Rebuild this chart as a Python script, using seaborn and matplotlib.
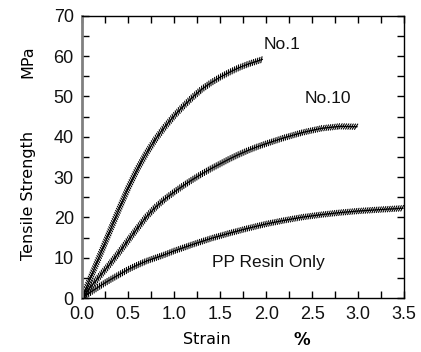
import numpy as np
import pandas as pd
import matplotlib
matplotlib.use("Agg")
import matplotlib.pyplot as plt
import matplotlib.patheffects as pe
from matplotlib.ticker import MultipleLocator
import seaborn as sns

# values
no1_strain = [0.0, 0.1, 0.2, 0.3, 0.4, 0.5, 0.6, 0.7, 0.8, 0.9, 1.0, 1.1,
              1.2, 1.3, 1.4, 1.5, 1.6, 1.7, 1.8, 1.96]
no1_stress = [0.0, 5.5, 11.0, 16.5, 22.0, 27.3, 32.0, 36.0, 39.5, 42.5, 45.2, 47.6,
              49.8, 51.8, 53.4, 54.8, 56.0, 57.1, 58.0, 59.2]

no10_strain = [0.0, 0.1, 0.2, 0.3, 0.4, 0.5, 0.6, 0.7, 0.8, 0.9, 1.0, 1.1, 1.2,
               1.3, 1.4, 1.5, 1.6, 1.7, 1.8, 1.9, 2.0, 2.2, 2.4, 2.6, 2.8, 2.99]
no10_stress = [0.0, 3.0, 5.7, 8.4, 11.3, 14.3, 17.3, 20.2, 22.6, 24.6, 26.3, 27.9, 29.4,
               30.8, 32.1, 33.3, 34.5, 35.6, 36.6, 37.5, 38.3, 39.8, 41.1, 42.1, 42.6, 42.5]

pp_strain = [0.0, 0.1, 0.2, 0.3, 0.4, 0.5, 0.6, 0.7, 0.8, 0.9, 1.0, 1.2, 1.4, 1.6,
             1.8, 2.0, 2.2, 2.4, 2.6, 2.8, 3.0, 3.2, 3.49]
pp_stress = [0.0, 1.6, 3.1, 4.5, 5.8, 7.1, 8.2, 9.2, 10.0, 10.8, 11.7, 13.3, 14.8, 16.1,
             17.3, 18.4, 19.3, 20.1, 20.7, 21.2, 21.6, 21.9, 22.3]

labels = ["No.1", "No.10", "PP Resin Only"]
label_pos = [(1.97, 62.8), (2.42, 49.6), (1.41, 8.9)]

sns.set_style("ticks")
plt.rcParams['font.family'] = ['Liberation Sans', 'DejaVu Sans']
plt.rcParams['text.color'] = 'black'
plt.rcParams['xtick.color'] = 'black'
plt.rcParams['ytick.color'] = 'black'

fig = plt.figure(figsize=(4.21, 3.52), dpi=100)
ax = fig.add_axes([0.195, 0.153, 0.765, 0.802])

# zigzag look of the original curves
zig = [pe.TickedStroke(spacing=1.6, angle=60, length=1.4, linewidth=0.8),
       pe.TickedStroke(spacing=1.6, angle=-120, length=1.4, linewidth=0.8),
       pe.Normal()]

for xs, ys in [(no1_strain, no1_stress), (no10_strain, no10_stress), (pp_strain, pp_stress)]:
    df = pd.DataFrame({"strain": xs, "stress": ys})
    sns.lineplot(data=df, x="strain", y="stress", ax=ax, color="black",
                 lw=0.9, path_effects=zig)

for lab, (lx, ly) in zip(labels, label_pos):
    ax.text(lx, ly, lab, fontsize=12.5, va="center", ha="left", color="#111111")

ax.set_xlim(0, 3.5)
ax.set_ylim(0, 70)
ax.xaxis.set_major_locator(MultipleLocator(0.5))
ax.xaxis.set_minor_locator(MultipleLocator(0.25))
ax.yaxis.set_major_locator(MultipleLocator(10))
ax.yaxis.set_minor_locator(MultipleLocator(5))
ax.xaxis.set_major_formatter(matplotlib.ticker.FormatStrFormatter("%.1f"))
ax.tick_params(which="both", direction="in", top=True, right=True,
               length=5, width=1, labelsize=13, pad=6, color="black",
               labelcolor="#111111")
ax.set_xlabel("")
ax.set_ylabel("")
for s in ["top", "right", "bottom"]:
    ax.spines[s].set_color("black")
    ax.spines[s].set_linewidth(1)
ax.spines["left"].set_color("#808080")
ax.spines["left"].set_linewidth(2)

fig.text(207 / 421, 1 - 340 / 352, "Strain", fontsize=11.5, ha="center", va="center",
         family="DejaVu Sans")
fig.text(302 / 421, 1 - 340 / 352, "%", fontsize=12, ha="center", va="center",
         fontweight="bold", family="DejaVu Sans")
fig.text(28 / 421, 1 - 195 / 352, "Tensile Strength", fontsize=11.5, rotation=90,
         ha="center", va="center", family="DejaVu Sans")
fig.text(28 / 421, 1 - 62 / 352, "MPa", fontsize=11.5, rotation=90,
         ha="center", va="center", family="DejaVu Sans")

fig.savefig("out.png", dpi=100)
